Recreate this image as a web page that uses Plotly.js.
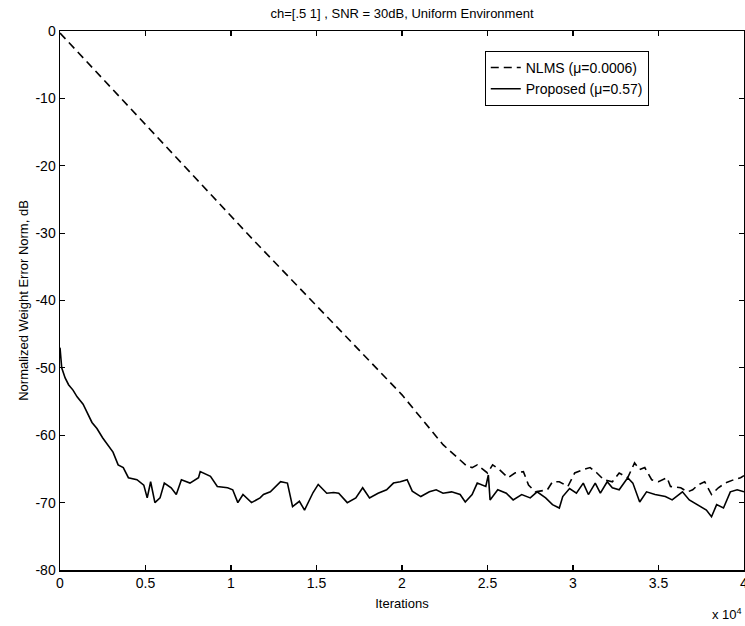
<!DOCTYPE html>
<html>
<head>
<meta charset="utf-8">
<script src="https://cdn.plot.ly/plotly-3.0.1.min.js"></script>
<style>html,body{margin:0;padding:0;background:#fff;}#chart{width:745px;height:626px;}</style>
</head>
<body>
<div id="chart"></div>
<script>
// Iterations in units of 10^4
const nlmsX = [0, 0.5, 1.13, 2.0, 2.105, 2.24, 2.38, 2.41, 2.44, 2.50, 2.53, 2.57, 2.62, 2.66, 2.71, 2.74, 2.78, 2.85, 2.88, 2.92, 2.97, 3.01, 3.06, 3.10, 3.14, 3.18, 3.23, 3.27, 3.32, 3.36, 3.39, 3.42, 3.46, 3.50, 3.55, 3.57, 3.63, 3.67, 3.70, 3.73, 3.77, 3.81, 3.85, 3.89, 3.94, 3.98, 4.0];
const nlmsY = [-0.3, -13.9, -31.0, -54.0, -57.3, -61.4, -64.6, -64.8, -64.4, -65.6, -64.4, -65.1, -66.3, -65.6, -65.4, -67.4, -68.4, -68.1, -66.9, -66.9, -67.6, -65.6, -65.1, -64.8, -65.6, -66.6, -66.9, -65.6, -66.3, -64.1, -65.1, -64.8, -66.6, -66.9, -66.3, -67.6, -67.8, -68.4, -68.1, -67.4, -66.9, -68.8, -67.8, -67.1, -66.6, -66.3, -66.0];

const propX = [0, 0.01, 0.03, 0.05, 0.076, 0.1, 0.135, 0.16, 0.187, 0.216, 0.25, 0.31, 0.34, 0.37, 0.40, 0.45, 0.49, 0.51, 0.53, 0.555, 0.585, 0.61, 0.65, 0.68, 0.71, 0.76, 0.81, 0.82, 0.88, 0.92, 0.98, 1.01, 1.04, 1.07, 1.12, 1.17, 1.19, 1.23, 1.29, 1.33, 1.36, 1.40, 1.43, 1.48, 1.51, 1.56, 1.60, 1.63, 1.65, 1.68, 1.73, 1.77, 1.81, 1.86, 1.91, 1.95, 1.99, 2.03, 2.06, 2.11, 2.16, 2.20, 2.24, 2.29, 2.34, 2.37, 2.41, 2.44, 2.49, 2.505, 2.515, 2.56, 2.61, 2.65, 2.70, 2.75, 2.79, 2.84, 2.88, 2.92, 2.94, 2.98, 3.02, 3.06, 3.09, 3.13, 3.16, 3.20, 3.23, 3.27, 3.32, 3.35, 3.39, 3.43, 3.48, 3.54, 3.58, 3.64, 3.68, 3.73, 3.78, 3.81, 3.84, 3.88, 3.92, 3.96, 4.0];
const propY = [-47, -50, -51.5, -52.5, -53.3, -54.3, -55.4, -56.6, -58.1, -59.0, -60.4, -62.5, -64.4, -64.8, -66.3, -66.6, -67.4, -69.3, -66.9, -70.0, -69.3, -67.1, -67.8, -68.8, -66.6, -67.1, -66.3, -65.4, -66.1, -67.6, -67.8, -68.1, -70.0, -68.8, -70.0, -69.3, -68.8, -68.4, -66.9, -67.1, -70.6, -69.8, -71.1, -68.5, -67.3, -68.6, -68.5, -68.6, -69.1, -70.0, -69.3, -67.8, -69.3, -68.6, -68.1, -67.1, -66.9, -66.6, -68.3, -69.1, -68.4, -68.1, -68.6, -68.4, -68.8, -69.9, -68.8, -67.1, -67.6, -65.9, -69.6, -68.1, -68.6, -69.6, -68.8, -69.3, -68.4, -69.3, -70.3, -70.8, -69.1, -67.9, -68.6, -67.1, -68.8, -67.1, -68.6, -66.9, -67.8, -68.1, -66.3, -67.1, -69.9, -68.4, -68.8, -69.1, -69.6, -68.4, -69.6, -70.3, -71.1, -72.1, -70.3, -70.8, -68.4, -68.1, -68.4];

const xTickVals = [0, 0.5, 1, 1.5, 2, 2.5, 3, 3.5, 4];
const xTickText = ['0', '0.5', '1', '1.5', '2', '2.5', '3', '3.5', '4'];
const yTickVals = [0, -10, -20, -30, -40, -50, -60, -70, -80];
const yTickText = ['0', '-10', '-20', '-30', '-40', '-50', '-60', '-70', '-80'];

const font = 'Liberation Sans, Arial, Helvetica, sans-serif';

const traces = [
  {x: nlmsX, y: nlmsY, name: 'NLMS (\u03bc=0.0006)', mode: 'lines', type: 'scatter',
   line: {color: '#000', width: 1.6, dash: '8px,5px'}},
  {x: propX, y: propY, name: 'Proposed (\u03bc=0.57)', mode: 'lines', type: 'scatter',
   line: {color: '#000', width: 1.6}}
];

const axisCommon = {
  showgrid: false, zeroline: false, showline: true, linecolor: '#000', linewidth: 1.5,
  mirror: 'allticks', ticks: 'inside', ticklen: 5, tickwidth: 1.2, tickcolor: '#000',
  ticklabeloverflow: 'allow',
  tickfont: {family: font, size: 14, color: '#000'}
};

const layout = {
  width: 745, height: 626,
  margin: {l: 60, r: 1, t: 31, b: 56},
  paper_bgcolor: '#fff', plot_bgcolor: '#fff',
  font: {family: font, color: '#000'},
  title: {text: 'ch=[.5 1] , SNR = 30dB, Uniform Environment', font: {family: font, size: 13, color: '#000'},
          x: 0.5, xref: 'paper', y: 1 - 13/626, yref: 'container', yanchor: 'middle'},
  xaxis: Object.assign({}, axisCommon, {range: [0, 4], tickmode: 'array', tickvals: xTickVals, ticktext: xTickText,
          title: {text: 'Iterations', font: {family: font, size: 13, color: '#000'}, standoff: 8}}),
  yaxis: Object.assign({}, axisCommon, {range: [-80, 0], tickmode: 'array', tickvals: yTickVals, ticktext: yTickText,
          title: {text: 'Normalized Weight Error Norm, dB', font: {family: font, size: 13, color: '#000'}, standoff: 4}}),
  showlegend: true,
  legend: {x: 0.621, y: 0.963, xanchor: 'left', yanchor: 'top', bgcolor: '#fff', bordercolor: '#000', borderwidth: 1,
           font: {family: font, size: 14, color: '#000'}, tracegroupgap: 0},
  annotations: [
    {text: 'x 10<sup>4</sup>', xref: 'paper', yref: 'paper', x: 1, y: -(614-570)/539, xanchor: 'right', yanchor: 'middle',
     showarrow: false, font: {family: font, size: 13, color: '#000'}}
  ]
};

Plotly.newPlot('chart', traces, layout, {displayModeBar: false, staticPlot: true});
</script>
</body>
</html>
